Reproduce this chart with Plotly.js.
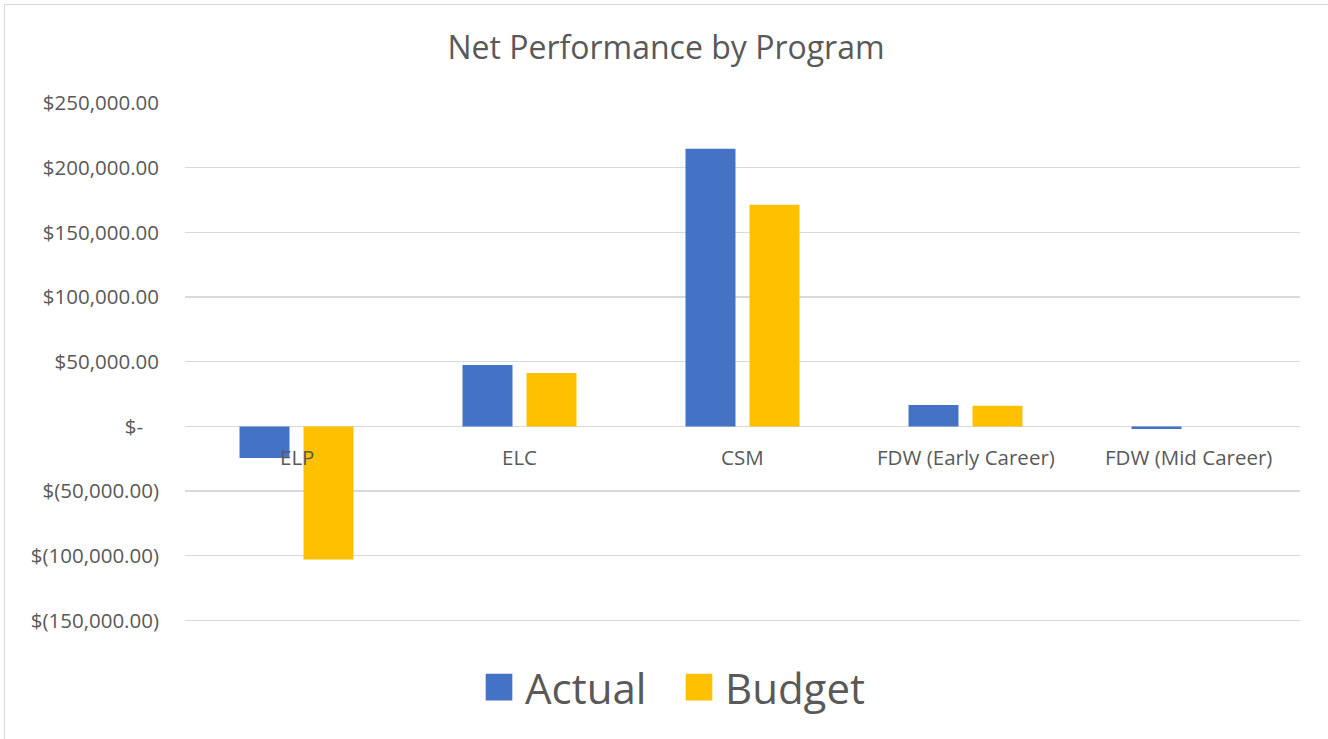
<!DOCTYPE html>
<html><head><meta charset="utf-8">
<script src="https://cdn.plot.ly/plotly-3.0.1.min.js"></script>
<style>
html,body{margin:0;padding:0;background:#fff;}
#wrap{position:relative;width:1328px;height:739px;overflow:hidden;}
#chart{width:1328px;height:739px;}
#frame{position:absolute;left:4px;top:4px;width:1340px;height:760px;border:1px solid #D9D9D9;pointer-events:none;}
</style></head>
<body><div id="wrap"><div id="chart"></div><div id="frame"></div></div>
<script>
const categories = ["ELP", "ELC", "CSM", "FDW (Early Career)", "FDW (Mid Career)"];
const actual = [-24400, 47500, 214600, 16500, -2000];
const budget = [-103000, 41200, 171300, 16000, 0];
const yTickVals = [250000, 200000, 150000, 100000, 50000, 0, -50000, -100000, -150000];
const yTickText = ["$250,000.00", "$200,000.00", "$150,000.00", "$100,000.00", "$50,000.00", "$-\u00a0\u00a0\u00a0", "$(50,000.00)", "$(100,000.00)", "$(150,000.00)"];

const font = "'Open Sans', sans-serif";
const txt = "#595959";

const traces = [
  {type: "bar", name: "Actual", x: categories, y: actual, marker: {color: "#4472C4"}, hoverinfo: "skip"},
  {type: "bar", name: "Budget", x: categories, y: budget, marker: {color: "#FFC000"}, hoverinfo: "skip"}
];

const annotations = categories.map(c => ({
  x: c, y: 0, xref: "x", yref: "y", text: c, showarrow: false,
  yanchor: "middle", yshift: -31, font: {family: font, size: 20.5, color: txt}
}));

const pxPerUnit = 517 / 400000;
const yMin = -152000;
const plotL = 185, plotW = 1115;

const layout = {
  width: 1328, height: 739,
  margin: {l: plotL, r: 1328 - plotL - plotW, t: 103, b: 119 - (-150000 - yMin) * pxPerUnit},
  paper_bgcolor: "#fff", plot_bgcolor: "#fff",
  title: {text: "Net Performance by Program", x: 666/1328, xanchor: "center", xref: "container",
          y: 1 - 48/739, yanchor: "middle", yref: "container",
          font: {family: font, size: 32, color: txt}},
  barmode: "group", bargap: 0.426, bargroupgap: 0.219,
  xaxis: {showticklabels: false, showgrid: false, zeroline: false, showline: false, ticks: ""},
  yaxis: {range: [yMin, 250000], tickvals: yTickVals, ticktext: yTickText,
          showgrid: true, gridcolor: "#D9D9D9", gridwidth: 1.3,
          zeroline: true, zerolinecolor: "#D9D9D9", zerolinewidth: 1.3,
          showline: false, ticks: "", ticklabelstandoff: 25,
          tickfont: {family: font, size: 20.5, color: txt}},
  showlegend: true,
  legend: {orientation: "h", x: (485 - plotL) / plotW, xanchor: "left",
           y: (620-684)/517, yanchor: "middle",
           entrywidth: 155, entrywidthmode: "pixels",
           font: {family: font, size: 42, color: txt}, itemclick: false, itemdoubleclick: false,
           traceorder: "normal"},
  annotations: annotations
};

Plotly.newPlot("chart", traces, layout, {staticPlot: true, displayModeBar: false}).then(gd => {
  document.querySelectorAll(".legend .legendpoints path").forEach(p => {
    p.setAttribute("transform", "translate(14,0) scale(2.22)");
  });
});
</script></body></html>
